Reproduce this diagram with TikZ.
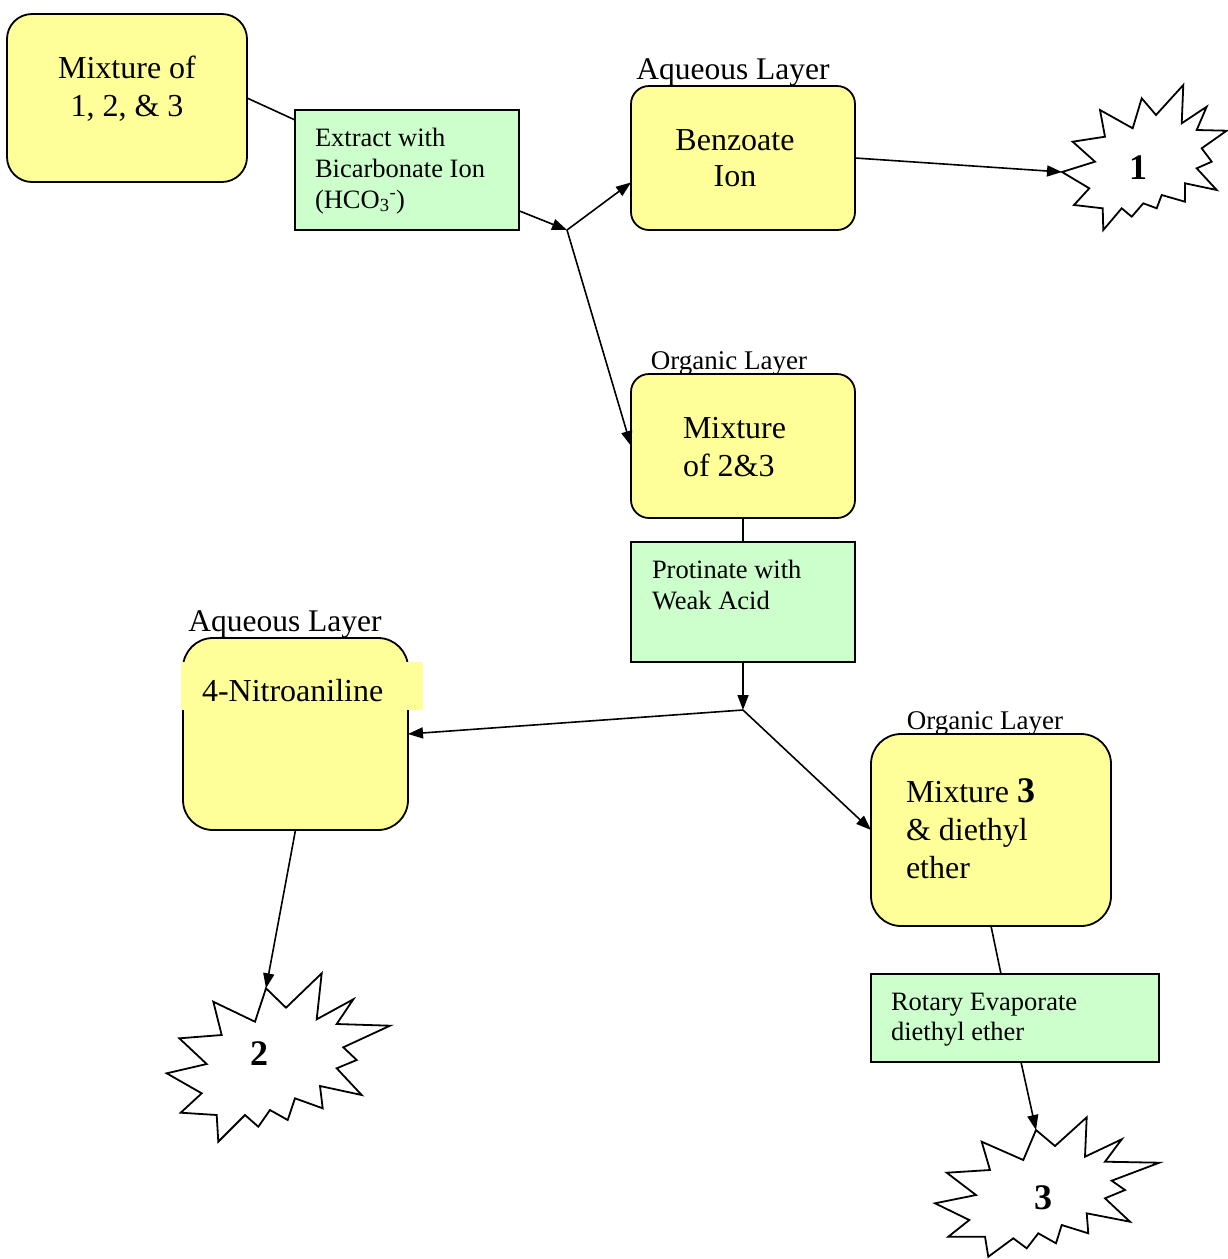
\documentclass[tikz,border=0pt]{standalone}
\usepackage{fontspec}
\setmainfont{Liberation Serif}
\usetikzlibrary{arrows.meta,calc}
\definecolor{boxyellow}{HTML}{FFFF99}
\definecolor{boxgreen}{HTML}{CCFFCC}
\begin{document}
\begin{tikzpicture}[x=1pt,y=-1pt,
  ybox/.style={draw, line width=1.8pt, fill=boxyellow, rounded corners=#1, inner sep=0pt, outer sep=0pt, anchor=north west},
  gbox/.style={draw, line width=1.8pt, fill=boxgreen, inner sep=0pt, outer sep=0pt, anchor=north west},
  txt/.style={inner sep=0pt, outer sep=0pt},
  big/.style={txt, font=\fontsize{32}{38}\selectfont},
  mid/.style={txt, font=\fontsize{26.5}{31}\selectfont},
  lab/.style={txt, font=\fontsize{31.5}{36}\selectfont, anchor=base},
  olab/.style={txt, font=\fontsize{27}{32}\selectfont, anchor=base},
  num/.style={txt, font=\fontsize{36}{40}\selectfont\bfseries, anchor=base},
  conn/.style={line width=1.6pt},
  arr/.style={line width=1.6pt, -{Triangle[length=15pt,width=11pt]}},
  starb/.style={draw, line width=1.8pt, fill=white, line join=miter}
]
\useasboundingbox (0,0) rectangle (1228,1259);

% ---------- boxes ----------
\node[ybox=25pt, minimum width=240pt, minimum height=168pt] (A) at (7,14) {};
\node[gbox, minimum width=224pt, minimum height=120pt] (G1) at (295,110) {};
\node[ybox=18pt, minimum width=224pt, minimum height=144pt] (B) at (631,86) {};
\node[ybox=18pt, minimum width=224pt, minimum height=144pt] (M23) at (631,374) {};
\node[gbox, minimum width=224pt, minimum height=120pt] (G2) at (631,542) {};
\node[ybox=30pt, minimum width=225pt, minimum height=192pt] (N) at (183,638) {};
\node[fill=boxyellow, anchor=north west, inner sep=0pt, outer sep=0pt, minimum width=242pt, minimum height=48pt] (Nfill) at (181,662) {};
\node[ybox=30pt, minimum width=240pt, minimum height=192pt] (M3) at (871,734) {};
\node[gbox, minimum width=288pt, minimum height=88pt] (G3) at (871,974) {};

% ---------- texts ----------
\node[big, anchor=base] (At1) at (127,78) {Mixture of};
\node[big, anchor=base] (At2) at (127,116) {1, 2, \& 3};

\node[mid, anchor=base west] (G1t1) at (315,146) {Extract with};
\node[mid, anchor=base west] (G1t2) at (315,177) {Bicarbonate Ion};
\node[mid, anchor=base west] (G1t3) at (315,208) {(HCO\textsubscript{3}\textsuperscript{-})};

\node[lab] (L1) at (733,79) {Aqueous Layer};
\node[big, anchor=base] (Bt1) at (735,150) {Benzoate};
\node[big, anchor=base] (Bt2) at (735,186) {Ion};

\node[olab] (L2) at (729,369) {Organic Layer};
\node[big, anchor=base west] (M23t1) at (683,438) {Mixture};
\node[big, anchor=base west] (M23t2) at (683,476) {of 2\&3};

\node[mid, anchor=base west] (G2t1) at (652,578) {Protinate with};
\node[mid, anchor=base west] (G2t2) at (652,609) {Weak Acid};

\node[lab] (L3) at (285,631) {Aqueous Layer};
\node[big, anchor=base west] (Nt) at (202,701) {4-Nitroaniline};

\node[olab] (L4) at (985,729) {Organic Layer};
\node[big, anchor=base west] (M3t1) at (906,802) {Mixture {\fontsize{36}{38}\selectfont\bfseries 3}};
\node[big, anchor=base west] (M3t2) at (906,840) {\& diethyl};
\node[big, anchor=base west] (M3t3) at (906,878) {ether};

\node[mid, anchor=base west] (G3t1) at (891,1010) {Rotary Evaporate};
\node[mid, anchor=base west] (G3t2) at (891,1040) {diethyl ether};

% ---------- starbursts ----------
\coordinate (s1) at (1062,172);
\draw[starb] (s1) -- (1095,161.7) -- (1072.7,141.7) -- (1105,136.7) -- (1100,110) -- (1132.7,128.3) -- (1141.7,98.3) -- (1156,115) -- (1183.3,85) -- (1181.7,123.3) -- (1206.7,106.7) -- (1196.7,130) -- (1226.7,130.7) -- (1201.7,148.3) -- (1211.7,161.7) -- (1196.7,168.3) -- (1216.7,190) -- (1185,183.3) -- (1185,201.7) -- (1161.7,195) -- (1156.7,208.3) -- (1143.3,203.3) -- (1131.7,216.7) -- (1121.7,208.3) -- (1103.3,230) -- (1102.7,208.3) -- (1074,205) -- (1089.3,188.3) -- cycle;
\node[num] (n1) at (1138,179) {1};

\coordinate (s2) at (266,988.3);
\draw[starb] (255,1021.7) -- (s2) -- (286,1007.7) -- (321.7,973.3) -- (316.7,1019.3) -- (353.3,999.3) -- (336.7,1024) -- (390,1025.7) -- (343.3,1047.3) -- (356.7,1060) -- (336.7,1068.3) -- (361.7,1095) -- (320,1086) -- (322.7,1108.3) -- (295,1098.3) -- (287.7,1120) -- (270,1110) -- (258.3,1126.7) -- (245,1115) -- (218.3,1141.7) -- (216.7,1115) -- (180.7,1112.7) -- (201.7,1093.3) -- (166.7,1073.3) -- (206.7,1064) -- (179.3,1038.3) -- (221.7,1035) -- (213.3,1001.7) -- cycle;
\node[num] (n2) at (259,1065) {2};

\coordinate (s3) at (1036,1130);
\draw[starb] (1023.3,1160) -- (s3) -- (1055,1146) -- (1086.7,1117.3) -- (1085,1156.7) -- (1121.7,1139.3) -- (1105,1161.7) -- (1159.3,1162.7) -- (1111.7,1180.7) -- (1125,1190) -- (1105,1198.3) -- (1130,1221.7) -- (1086.7,1213.3) -- (1088.3,1233.3) -- (1061.7,1225) -- (1056,1243.3) -- (1038.3,1233.3) -- (1026.7,1248.3) -- (1013.3,1238.3) -- (988.3,1256.7) -- (985,1236.7) -- (948.3,1236.7) -- (969.3,1220) -- (935,1203.3) -- (976,1195) -- (946.7,1172.7) -- (990,1170) -- (981.7,1141.7) -- cycle;
\node[num] (n3) at (1043,1209) {3};

% ---------- connectors ----------
\coordinate (j1) at (567,230);
\coordinate (j2) at (743,710);
\draw[conn] (A.east) -- ($(G1.north west)!0.083!(G1.south west)$);
\draw[arr] ($(G1.north east)!0.84!(G1.south east)$) -- (j1);
\draw[arr] (j1) -- ($(B.north west)!0.67!(B.south west)$);
\draw[arr] (j1) -- (M23.west);
\draw[arr] (B.east) -- (s1);
\draw[conn] (M23.south) -- (G2.north);
\draw[arr] (G2.south) -- (j2);
\draw[arr] (j2) -- (N.east);
\draw[arr] (j2) -- (M3.west);
\draw[arr] (N.south) -- (s2);
\draw[conn] (M3.south) -- ([xshift=-14pt]G3.north);
\draw[arr] ([xshift=6pt]G3.south) -- (s3);
\end{tikzpicture}
\end{document}
